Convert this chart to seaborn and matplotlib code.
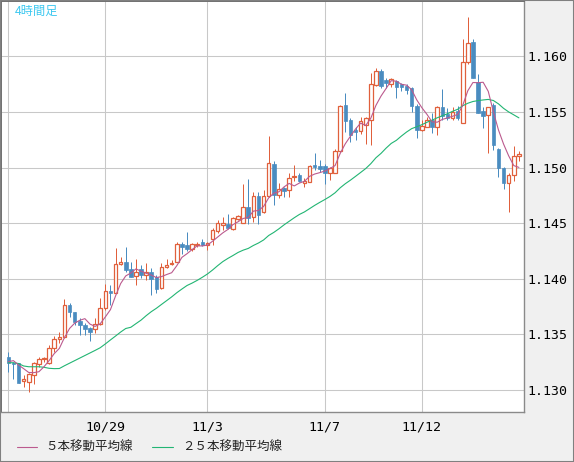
import matplotlib
matplotlib.use("Agg")
import matplotlib.pyplot as plt
from matplotlib.lines import Line2D
from matplotlib.patches import Rectangle
import pandas as pd
import seaborn as sns

# 4h EUR/USD candles
opens = [1.13301, 1.13247, 1.13240, 1.13078, 1.13075, 1.13135, 1.13234, 1.13279, 1.13240, 1.13375,
         1.13456, 1.13474, 1.13764, 1.13698, 1.13623, 1.13584, 1.13555, 1.13546, 1.13590, 1.13734,
         1.13890, 1.13875, 1.14133, 1.14153, 1.14085, 1.14028, 1.14085, 1.14031, 1.14061, 1.14019,
         1.13914, 1.14103, 1.14130, 1.14153, 1.14312, 1.14304, 1.14268, 1.14304, 1.14328, 1.14304,
         1.14355, 1.14432, 1.14486, 1.14490, 1.14445, 1.14535, 1.14504, 1.14648, 1.14553, 1.14744,
         1.14603, 1.14744, 1.15032, 1.14753, 1.14813, 1.14798, 1.14915, 1.14933, 1.14858, 1.14873,
         1.15023, 1.15014, 1.15014, 1.14954, 1.14954, 1.15151, 1.15562, 1.15427, 1.15337, 1.15328,
         1.15382, 1.15427, 1.15742, 1.15868, 1.15791, 1.15748, 1.15778, 1.15748, 1.15736, 1.15712,
         1.15556, 1.15334, 1.15367, 1.15427, 1.15361, 1.15541, 1.15481, 1.15442, 1.15511, 1.15398,
         1.15951, 1.16131, 1.15772, 1.15511, 1.15472, 1.15562, 1.15164, 1.14993, 1.14858, 1.14933,
         1.15107]
highs = [1.13342, 1.13252, 1.13245, 1.13135, 1.13150, 1.13254, 1.13294, 1.13299, 1.13405, 1.13485,
         1.13524, 1.13818, 1.13779, 1.13701, 1.13645, 1.13600, 1.13569, 1.13645, 1.13824, 1.13953,
         1.13944, 1.14274, 1.14198, 1.14288, 1.14153, 1.14175, 1.14124, 1.14139, 1.14094, 1.14034,
         1.14144, 1.14175, 1.14169, 1.14328, 1.14333, 1.14418, 1.14319, 1.14333, 1.14355, 1.14333,
         1.14454, 1.14528, 1.14553, 1.14582, 1.14553, 1.14573, 1.14852, 1.14894, 1.14783, 1.14783,
         1.14798, 1.15283, 1.15061, 1.14858, 1.14828, 1.14948, 1.15023, 1.14948, 1.14903, 1.15023,
         1.15128, 1.15068, 1.15032, 1.15007, 1.15163, 1.15562, 1.15673, 1.15442, 1.15367, 1.15457,
         1.15457, 1.15847, 1.15892, 1.15886, 1.15802, 1.15802, 1.15787, 1.15757, 1.15748, 1.15727,
         1.15568, 1.15427, 1.15457, 1.15487, 1.15550, 1.15703, 1.15532, 1.15547, 1.15556, 1.16161,
         1.16353, 1.16161, 1.15841, 1.15547, 1.15547, 1.15577, 1.15173, 1.15007, 1.14948, 1.15194,
         1.15151]
lows = [1.13162, 1.13096, 1.13060, 1.13030, 1.12985, 1.13054, 1.13204, 1.13254, 1.13237, 1.13344,
        1.13420, 1.13465, 1.13659, 1.13584, 1.13494, 1.13494, 1.13443, 1.13510, 1.13584, 1.13720,
        1.13764, 1.13870, 1.14124, 1.14064, 1.14019, 1.13944, 1.14004, 1.13989, 1.13854, 1.13869,
        1.13905, 1.14094, 1.14124, 1.14148, 1.14223, 1.14252, 1.14252, 1.14288, 1.14294, 1.14259,
        1.14304, 1.14409, 1.14438, 1.14450, 1.14438, 1.14528, 1.14499, 1.14492, 1.14513, 1.14492,
        1.14588, 1.14738, 1.14663, 1.14723, 1.14738, 1.14738, 1.14882, 1.14873, 1.14828, 1.14867,
        1.14978, 1.14963, 1.14852, 1.14888, 1.14948, 1.15142, 1.15322, 1.15231, 1.15247, 1.15299,
        1.15209, 1.15203, 1.15736, 1.15712, 1.15712, 1.15727, 1.15622, 1.15688, 1.15658, 1.15502,
        1.15263, 1.15328, 1.15361, 1.15307, 1.15292, 1.15427, 1.15427, 1.15427, 1.15427, 1.15398,
        1.15936, 1.15802, 1.15487, 1.15352, 1.15128, 1.15158, 1.14918, 1.14804, 1.14597, 1.14882,
        1.15061]
closes = [1.13247, 1.13234, 1.13066, 1.13096, 1.13144, 1.13240, 1.13276, 1.13290, 1.13375, 1.13456,
          1.13474, 1.13764, 1.13698, 1.13614, 1.13584, 1.13548, 1.13519, 1.13593, 1.13734, 1.13890,
          1.13875, 1.14133, 1.14153, 1.14079, 1.14019, 1.14061, 1.14031, 1.14061, 1.13995, 1.13908,
          1.14103, 1.14124, 1.14144, 1.14310, 1.14283, 1.14268, 1.14310, 1.14312, 1.14304, 1.14324,
          1.14438, 1.14499, 1.14499, 1.14459, 1.14544, 1.14564, 1.14648, 1.14544, 1.14744, 1.14573,
          1.14744, 1.15038, 1.14753, 1.14804, 1.14792, 1.14903, 1.14924, 1.14882, 1.14882, 1.15016,
          1.15007, 1.14987, 1.14954, 1.14993, 1.15151, 1.15553, 1.15421, 1.15292, 1.15317, 1.15418,
          1.15448, 1.15748, 1.15868, 1.15736, 1.15761, 1.15796, 1.15727, 1.15727, 1.15697, 1.15556,
          1.15337, 1.15376, 1.15427, 1.15361, 1.15541, 1.15463, 1.15442, 1.15502, 1.15442, 1.15951,
          1.16122, 1.15810, 1.15493, 1.15463, 1.15541, 1.15203, 1.14993, 1.14858, 1.14933, 1.15104,
          1.15122]

# moving-average values before a full window is visible
ma5_lead = [1.13254, 1.13264, 1.13225, 1.13192]
ma25_lead = [1.13245, 1.13245, 1.13238, 1.13216, 1.13209, 1.13209, 1.13209, 1.13204, 1.13195, 1.13192,
             1.13193, 1.13218, 1.13241, 1.13264, 1.13287, 1.13310, 1.13333, 1.13356, 1.13380, 1.13414,
             1.13450, 1.13485, 1.13521, 1.13553]

date_labels = ["10/29", "11/3", "11/7", "11/12"]
date_index = [19, 39, 62, 81]
price_ticks = [1.130, 1.135, 1.140, 1.145, 1.150, 1.155, 1.160]

UP = "#e0603c"
DOWN = "#4a8cc0"
MA5_COLOR = "#bb5a8e"
MA25_COLOR = "#22b573"
GRID = "#c8c8c8"
PANEL = "#f0f0f0"
W, H = 574, 462

df = pd.DataFrame({"open": opens, "high": highs, "low": lows, "close": closes})
df["ma5"] = df["close"].rolling(5).mean()
df.loc[:len(ma5_lead) - 1, "ma5"] = ma5_lead
df["ma25"] = df["close"].rolling(25).mean()
df.loc[:len(ma25_lead) - 1, "ma25"] = ma25_lead

sns.set_style("white")
plt.rcParams["font.family"] = ["DejaVu Sans", "Noto Sans CJK JP"]

fig = plt.figure(figsize=(W / 100, H / 100), dpi=100, facecolor=PANEL)
ax = fig.add_axes([1 / W, 50 / H, 523 / W, 411.5 / H])
ax.set_facecolor("white")

# grid
for p in price_ticks:
    ax.axhline(p, color=GRID, lw=0.75, zorder=0)
for i in [0] + date_index:
    ax.axvline(i, color=GRID, lw=0.75, zorder=0)

# candles
body_w = 0.7
for i, r in df.iterrows():
    up = r["close"] >= r["open"]
    col = UP if up else DOWN
    ax.vlines(i, r["low"], r["high"], color=col, lw=0.72, zorder=1)
    lo, hi = min(r["open"], r["close"]), max(r["open"], r["close"])
    ax.bar(i, max(hi - lo, 0.00002), bottom=lo, width=body_w,
           facecolor="white" if up else col, edgecolor=col,
           linewidth=0.9 if up else 0.5, zorder=2)

sns.lineplot(x=df.index, y=df["ma25"], ax=ax, color=MA25_COLOR, linewidth=0.8, zorder=3)
sns.lineplot(x=df.index, y=df["ma5"], ax=ax, color=MA5_COLOR, linewidth=0.8, zorder=4)

ax.set_xlim(-1.43, 101.0)
ax.set_ylim(1.12802, 1.16503)
ax.set_xlabel("")
ax.set_ylabel("")

ax.yaxis.tick_right()
ax.set_yticks(price_ticks)
ax.set_yticklabels([f"{p:.3f}" for p in price_ticks], family="DejaVu Sans Mono", fontsize=9.5)
ax.set_xticks(date_index)
ax.set_xticklabels(date_labels, family="DejaVu Sans Mono", fontsize=9.5)
ax.tick_params(axis="y", length=0, pad=2.5, colors="black")
ax.tick_params(axis="x", length=0, pad=6, colors="black")

for side in ["left", "top"]:
    ax.spines[side].set_color("#707070")
    ax.spines[side].set_linewidth(1.4)
for side in ["right", "bottom"]:
    ax.spines[side].set_color("#8a8a8a")
    ax.spines[side].set_linewidth(1.0)

# title inside the chart
fig.text(15 / W, 1 - 11 / H, "4時間足", color="#3cc8f0", fontsize=8.8,
         family=["Noto Sans CJK JP", "DejaVu Sans"], ha="left", va="center")

# legend along the bottom
ly = 1 - 447 / H
for x0, x1, tx, col, label in [(16.5, 36.5, 45.5, MA5_COLOR, "５本移動平均線"),
                               (152, 173, 182, MA25_COLOR, "２５本移動平均線")]:
    fig.add_artist(Line2D([x0 / W, x1 / W], [ly, ly], transform=fig.transFigure,
                          color=col, lw=0.8))
    fig.text(tx / W, ly, label, fontsize=9, color="#222222",
             family=["Noto Sans CJK JP", "DejaVu Sans"], ha="left", va="center")

fig.add_artist(Rectangle((0, 0), 1, 1, transform=fig.transFigure, fill=False,
                         edgecolor="#808080", lw=1.5))

fig.savefig("out.png", dpi=100, facecolor=fig.get_facecolor())
